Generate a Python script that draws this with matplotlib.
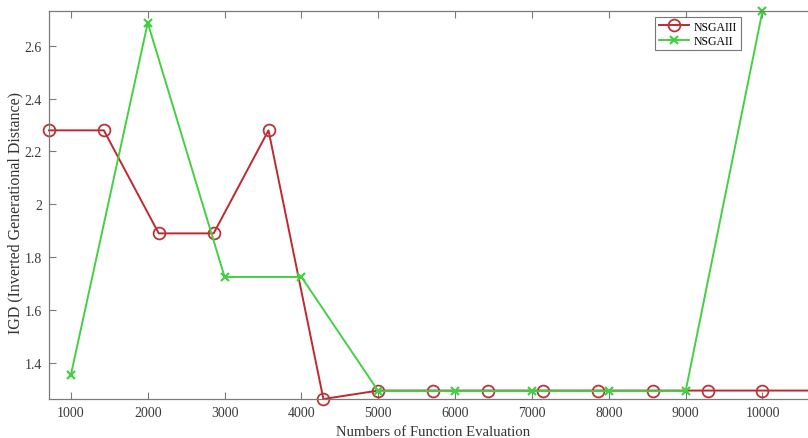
import numpy as np
import matplotlib.pyplot as plt

plt.rcParams['font.family'] = ['Liberation Serif', 'DejaVu Serif']

# NSGAIII sampled every 10000/14 evaluations
evals_nsga3 = np.arange(1, 16) * 10000 / 14
igd_nsga3 = [2.28, 2.28, 1.89, 1.89, 2.28, 1.263, 1.295, 1.295,
             1.295, 1.295, 1.295, 1.295, 1.295, 1.295, 1.295]

# NSGAII sampled every 1000 evaluations
evals_nsga2 = [1000, 2000, 3000, 4000, 5000, 6000, 7000, 8000, 9000, 10000]
igd_nsga2 = [1.355, 2.687, 1.725, 1.725, 1.293, 1.293, 1.293, 1.293, 1.293, 2.732]

xticks = [1000, 2000, 3000, 4000, 5000, 6000, 7000, 8000, 9000, 10000]
yticks = [1.4, 1.6, 1.8, 2.0, 2.2, 2.4, 2.6]

fig = plt.figure(figsize=(8.08, 4.39), dpi=100)
ax = fig.add_axes([0.0606, 0.0888, 0.951, 0.884])

ax.plot(evals_nsga3, igd_nsga3, color='#c0282e', linewidth=1.4, marker='o',
        markersize=8.5, markerfacecolor='none', markeredgecolor='#b8353a',
        markeredgewidth=1.3, label='NSGAIII', clip_on=False)
ax.plot(evals_nsga2, igd_nsga2, color='#44d044', linewidth=1.4, marker='x',
        markersize=6, markeredgewidth=1.6, label='NSGAII', clip_on=False)

ax.set_xlim(evals_nsga3[0], evals_nsga3[-1])
ax.set_ylim(min(igd_nsga3), max(igd_nsga2))
ax.set_xticks(xticks)
ax.set_yticks(yticks)
ax.set_yticklabels(['1.4', '1.6', '1.8', '2', '2.2', '2.4', '2.6'])

for s in ax.spines.values():
    s.set_color('#7a7a7a')
    s.set_linewidth(0.9)
ax.tick_params(direction='in', top=True, right=True, length=5, width=0.8,
               color='#7a7a7a', labelcolor='#3a3a3a', labelsize=10, pad=5)

ax.set_xlabel('Numbers of Function Evaluation', fontsize=10.6, color='#333333', labelpad=4)
ax.set_ylabel('IGD (Inverted Generational Distance)', fontsize=11.5, color='#333333')
ax.yaxis.set_label_coords(-0.033, 0.482)

leg = ax.legend(loc='upper left', bbox_to_anchor=(655 / 808, 1 - 18 / 439),
                bbox_transform=fig.transFigure, fontsize=8.5, frameon=True,
                fancybox=False, borderpad=0.3, handlelength=2.6,
                handletextpad=0.4, labelspacing=0.2, borderaxespad=0)
leg.get_frame().set_edgecolor('#555555')
leg.get_frame().set_linewidth(0.8)

plt.savefig('out.png', dpi=100)
